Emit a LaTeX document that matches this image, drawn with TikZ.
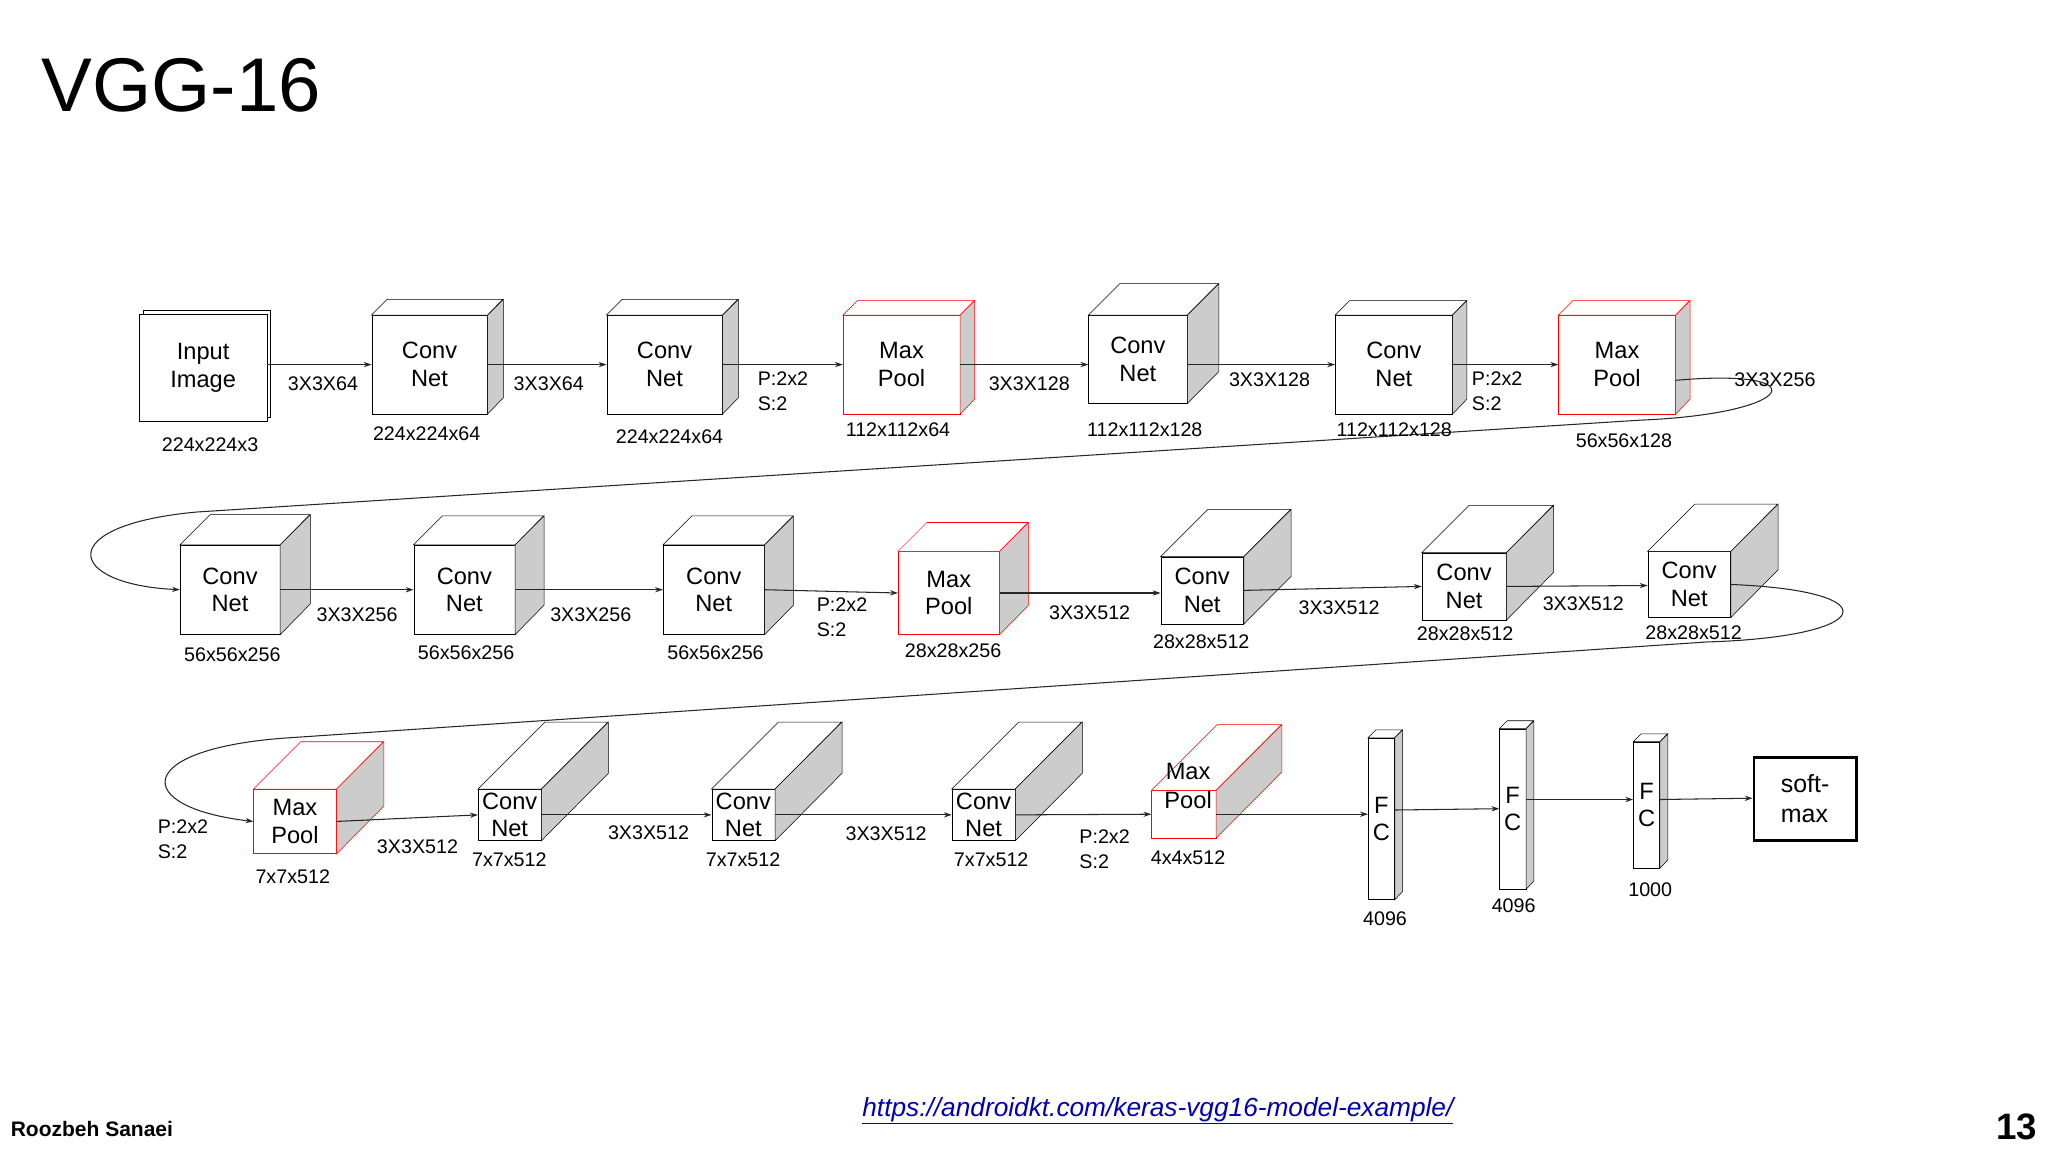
\documentclass[tikz,border=0pt]{standalone}
\usepackage{fontspec}
\setmainfont{Liberation Sans}
\usetikzlibrary{arrows.meta}
\begin{document}
\begin{tikzpicture}[x=1pt,y=-1pt,
  front/.style={draw, fill=white, inner sep=0pt, align=center, font=\fontsize{18}{21}\selectfont, anchor=north west},
  lbl/.style={font=\fontsize{15}{19}\selectfont, inner sep=0pt},
  lbll/.style={lbl, align=left, anchor=west},
  arr/.style={-{Stealth[length=6pt,width=4pt]}, line width=0.8pt, draw=black!85}]
\useasboundingbox (0,0) rectangle (1560,877.5);
\newcommand\cube[8]{%
  \node[front, draw=#7, minimum width=#4pt, minimum height=#5pt] (#1) at (#2,#3) {#8};
  \draw[draw=#7, fill=white] (#1.north west) -- ++(#6,-#6) -- ++(#4,0) -- (#1.north east) -- cycle;
  \draw[draw=#7, fill=black!20] (#1.north east) -- ++(#6,-#6) -- ++(0,#5) -- (#1.south east) -- cycle;}
\node[anchor=west, font=\fontsize{58}{60}\selectfont] (title) at (28,65) {VGG-16};
% row 1
\draw[fill=white] (109,236) rectangle (206,318);
\node[front, minimum width=97pt, minimum height=82pt] (in) at (106,239) {Input\\Image};
\cube{c1}{283}{240}{88}{75}{12}{black}{Conv\\Net}
\cube{c2}{462}{240}{88}{75}{12}{black}{Conv\\Net}
\cube{m1}{642}{240}{89}{75}{11}{red}{Max\\Pool}
\cube{c3}{829}{240}{75}{67}{24}{black}{Conv\\Net}
\cube{c4}{1017}{240}{89}{75}{11}{black}{Conv\\Net}
\cube{m2}{1187}{240}{89}{75}{11}{red}{Max\\Pool}
% row 2
\cube{c5}{137}{415}{76}{68}{23}{black}{Conv\\Net}
\cube{c6}{315}{415}{77}{68}{22}{black}{Conv\\Net}
\cube{c7}{505}{415}{77}{68}{22}{black}{Conv\\Net}
\cube{m3}{684}{420}{77}{63}{22}{red}{Max\\Pool}
\cube{c8}{884}{424}{63}{51}{36}{black}{Conv\\Net}
\cube{c9}{1083}{421}{64}{51}{36}{black}{Conv\\Net}
\cube{c10}{1255}{420}{63}{50}{36}{black}{Conv\\Net}
% row 3
\cube{m4}{193}{601}{63}{49}{36}{red}{Max\\Pool}
\cube{c11}{364}{601}{48}{39}{51}{black}{Conv\\Net}
\cube{c12}{542}{601}{48}{39}{51}{black}{Conv\\Net}
\cube{c13}{725}{601}{48}{39}{51}{black}{Conv\\Net}
\cube{m5}{877}{602}{49}{36}{50}{red}{}
\node[align=center, font=\fontsize{18}{22}\selectfont, inner sep=0pt] (m5t) at (905,599) {Max\\Pool};
\cube{f1}{1042}{562}{20}{123}{6}{black}{F\\C}
\cube{f2}{1142}{555}{20}{122}{6}{black}{F\\C}
\cube{f3}{1244}{565}{20}{96}{6}{black}{F\\C}
\node[draw, line width=2pt, minimum width=78pt, minimum height=63pt, align=left, font=\fontsize{19}{23}\selectfont] (sm) at (1375,608.5) {soft-\\max};
% arrows
\draw[arr] (in.east |- c1.west) -- (c1.west);
\draw[arr] (c1.east) -- (c2.west);
\draw[arr] (c2.east) -- (m1.west);
\draw[arr] (m1.east) -- (c3.west |- m1.east);
\draw[arr] (c3.east |- c4.west) -- (c4.west);
\draw[arr] (c4.east) -- (m2.west);
\draw[arr] ([yshift=-12pt]m2.east) .. controls (1385,280) and (1370,315) .. (1250,320) -- (150,390) .. controls (40,400) and (50,445) .. (c5.west);
\draw[arr] (c5.east) -- (c6.west);
\draw[arr] (c6.east) -- (c7.west);
\draw[arr] (c7.east) -- (m3.west);
\draw[arr] (m3.east) -- (c8.west |- m3.east);
\draw[arr] (c8.east) -- (c9.west);
\draw[arr] (c9.east) -- (1255,446);
\draw[arr] (c10.east) .. controls (1440,450) and (1430,485) .. (1300,489) -- (220,562) .. controls (100,570) and (100,615) .. (m4.west);
\draw[arr] (m4.east) -- (c11.west);
\draw[arr] (c11.east) -- (c12.west);
\draw[arr] (c12.east) -- (c13.west);
\draw[arr] (c13.east) -- (m5.west);
\draw[arr] (m5.east) -- (f1.west |- m5.east);
\draw[arr] (f1.east |- 0,617) -- (f2.west |- 0,616);
\draw[arr] (f2.east |- 0,609) -- (f3.west |- 0,609);
\draw[arr] (f3.east |- 0,609) -- (sm.west |- 0,608);
% labels row 1
\node[lbl] (l1) at (160,339) {224x224x3};
\node[lbl] (l2) at (246,292) {3X3X64};
\node[lbl] (l3) at (325,330) {224x224x64};
\node[lbl] (l4) at (418,292) {3X3X64};
\node[lbl] (l5) at (510,333) {224x224x64};
\node[lbll] (l6) at (577,298) {P:2x2\\S:2};
\node[lbl] (l7) at (684,327) {112x112x64};
\node[lbl] (l8) at (784,292) {3X3X128};
\node[lbl] (l9) at (872,327) {112x112x128};
\node[lbl] (l10) at (967,289) {3X3X128};
\node[lbl] (l11) at (1062,327) {112x112x128};
\node[lbll] (l12) at (1121,298) {P:2x2\\S:2};
\node[lbl] (l13) at (1237,336) {56x56x128};
\node[lbl] (l14) at (1352,289) {3X3X256};
% row 2
\node[lbl] (l15) at (177,499) {56x56x256};
\node[lbl] (l16) at (272,468) {3X3X256};
\node[lbl] (l17) at (355,497) {56x56x256};
\node[lbl] (l18) at (450,468) {3X3X256};
\node[lbl] (l19) at (545,497) {56x56x256};
\node[lbll] (l20) at (622,470) {P:2x2\\S:2};
\node[lbl] (l21) at (726,496) {28x28x256};
\node[lbl] (l22) at (830,467) {3X3X512};
\node[lbl] (l23) at (915,489) {28x28x512};
\node[lbl] (l24) at (1020,463) {3X3X512};
\node[lbl] (l25) at (1116,483) {28x28x512};
\node[lbl] (l26) at (1206,460) {3X3X512};
\node[lbl] (l27) at (1290,482) {28x28x512};
% row 3
\node[lbll] (l28) at (120,639) {P:2x2\\S:2};
\node[lbl] (l29) at (223,668) {7x7x512};
\node[lbl] (l30) at (318,645) {3X3X512};
\node[lbl] (l31) at (388,655) {7x7x512};
\node[lbl] (l32) at (494,634) {3X3X512};
\node[lbl] (l33) at (566,655) {7x7x512};
\node[lbl] (l34) at (675,635) {3X3X512};
\node[lbl] (l35) at (755,655) {7x7x512};
\node[lbll] (l36) at (822,647) {P:2x2\\S:2};
\node[lbl] (l37) at (905,653) {4x4x512};
\node[lbl] (l38) at (1055,700) {4096};
\node[lbl] (l39) at (1153,690) {4096};
\node[lbl] (l40) at (1257,678) {1000};
% footer
\node[anchor=west, font=\bfseries\fontsize{16}{18}\selectfont, inner sep=0pt] (auth) at (8,860) {Roozbeh Sanaei};
\node[font=\itshape\fontsize{20}{22}\selectfont, text=blue!70!black, inner sep=0pt] (url) at (882,846) {\underline{https://androidkt.com/keras-vgg16-model-example/}};
\node[anchor=east, font=\bfseries\fontsize{28}{30}\selectfont, inner sep=0pt] (pg) at (1552,858) {13};
\end{tikzpicture}
\end{document}
